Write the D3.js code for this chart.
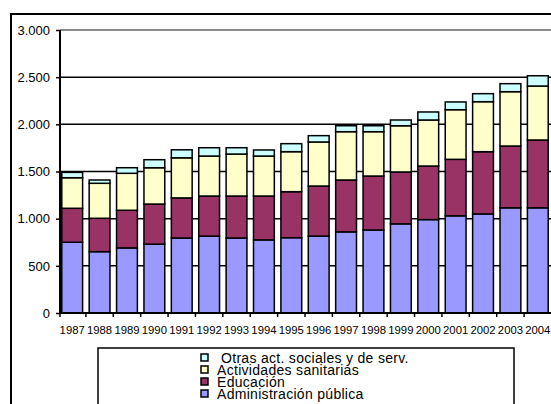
<!DOCTYPE html>
<html>
<head>
<meta charset="utf-8">
<script src="https://cdn.jsdelivr.net/npm/d3@7"></script>
<style>
  body { margin: 0; background: #fff; }
  svg { display: block; font-family: "Liberation Sans", Arial, sans-serif; }
</style>
</head>
<body>
<div id="chart"></div>
<script>
// years on the x axis
const years = ["1987", "1988", "1989", "1990", "1991", "1992", "1993", "1994", "1995",
  "1996", "1997", "1998", "1999", "2000", "2001", "2002", "2003", "2004"];

// segment values, bottom to top
const admin = [750, 650, 690, 730, 795, 815, 795, 775, 798, 815, 860, 880, 945, 990, 1030, 1050, 1115, 1115];
const educ = [360, 354, 399, 425, 425, 425, 445, 465, 488, 531, 550, 572, 550, 568, 599, 660, 655, 719];
const activ = [324, 371, 392, 385, 425, 424, 445, 424, 424, 467, 512, 470, 490, 488, 526, 530, 576, 572];
const otras = [57, 35, 59, 85, 85, 88, 67, 64, 85, 67, 63, 63, 61, 85, 82, 85, 85, 109];

const seriesNames = ["Administración pública", "Educación", "Actividades sanitarias", "Otras act. sociales y de serv."];
const yTicks = [0, 500, 1000, 1500, 2000, 2500, 3000];

const width = 551;
const height = 404;

const svg = d3.select("#chart")
  .append("svg")
  .attr("width", width)
  .attr("height", height);

// outer chart border (only left and top are visible)
svg.append("path")
  .attr("d", "M11,404 L11,14 L551,14")
  .attr("fill", "none")
  .attr("stroke", "black")
  .attr("stroke-width", 2);

const x = d3.scaleBand()
  .domain(years)
  .range([58.5, 551.5])
  .paddingInner(0.24)
  .paddingOuter(0.12);

const y = d3.scaleLinear()
  .domain([0, 3000])
  .range([313, 30]);

// gridlines
svg.append("g")
  .selectAll("line")
  .data(yTicks.filter(d => d > 0))
  .join("line")
  .attr("x1", 60)
  .attr("x2", width)
  .attr("y1", d => y(d))
  .attr("y2", d => y(d))
  .attr("stroke", d => d === 3000 ? "#8c8c8c" : "black")
  .attr("stroke-width", d => d === 3000 ? 2 : 1.5);

// build the stack table
const table = years.map((yr, i) => ({
  year: yr,
  a: admin[i], e: educ[i], s: activ[i], o: otras[i]
}));
const keys = ["a", "e", "s", "o"];
const colors = ["#9999FF", "#993366", "#FFFFCC", "#CCFFFF"];
const stacked = d3.stack().keys(keys)(table);

svg.append("g")
  .selectAll("g")
  .data(stacked)
  .join("g")
  .attr("fill", (d, i) => colors[i])
  .selectAll("rect")
  .data(d => d)
  .join("rect")
  .attr("x", d => x(d.data.year))
  .attr("width", x.bandwidth())
  .attr("y", d => y(d[1]))
  .attr("height", d => y(d[0]) - y(d[1]))
  .attr("stroke", "black")
  .attr("stroke-width", 1.5);

// y axis
const yAxis = svg.append("g")
  .attr("transform", "translate(60,0)")
  .call(d3.axisLeft(y)
    .tickValues(yTicks)
    .tickSize(4)
    .tickFormat(d => d3.format(",")(d).replace(",", ".")));
yAxis.select(".domain").attr("stroke-width", 2).attr("d", "M-0,313V30");
yAxis.selectAll(".tick line").attr("stroke-width", 1.5);
yAxis.selectAll("text")
  .attr("x", -10)
  .attr("font-size", 13)
  .attr("font-family", "Liberation Sans, Arial, sans-serif")
  .attr("fill", "black");

// x axis, ticks between the bars
const xAxis = svg.append("g")
  .attr("transform", "translate(0,313)");
xAxis.append("line")
  .attr("x1", 59).attr("x2", width)
  .attr("stroke", "black").attr("stroke-width", 2);
xAxis.selectAll(".tk")
  .data(years)
  .join("line")
  .attr("class", "tk")
  .attr("x1", d => Math.max(60, x(d) - x.step() * x.paddingInner() / 2))
  .attr("x2", d => Math.max(60, x(d) - x.step() * x.paddingInner() / 2))
  .attr("y1", 0).attr("y2", 4)
  .attr("stroke", "black").attr("stroke-width", 1.5);
xAxis.selectAll("text")
  .data(years)
  .join("text")
  .attr("x", d => x(d) + x.bandwidth() / 2)
  .attr("y", 21)
  .attr("text-anchor", "middle")
  .attr("font-size", 11.3)
  .text(d => d);

// legend
const legend = svg.append("g");
legend.append("rect")
  .attr("x", 98).attr("y", 348)
  .attr("width", 416).attr("height", 70)
  .attr("fill", "white")
  .attr("stroke", "black")
  .attr("stroke-width", 1.5);

const order = [3, 2, 1, 0];
const items = legend.selectAll(".item")
  .data(order)
  .join("g")
  .attr("class", "item")
  .attr("transform", (d, i) => `translate(201,${358 + i * 12})`);
items.append("rect")
  .attr("x", 0).attr("y", -4)
  .attr("width", 7).attr("height", 7)
  .attr("fill", d => colors[d])
  .attr("stroke", "black")
  .attr("stroke-width", 1.5);
items.append("text")
  .attr("x", (d, i) => i === 0 ? 20 : 16)
  .attr("y", 5)
  .attr("font-size", 14)
  .attr("letter-spacing", 0.3)
  .text(d => seriesNames[d]);
</script>
</body>
</html>
